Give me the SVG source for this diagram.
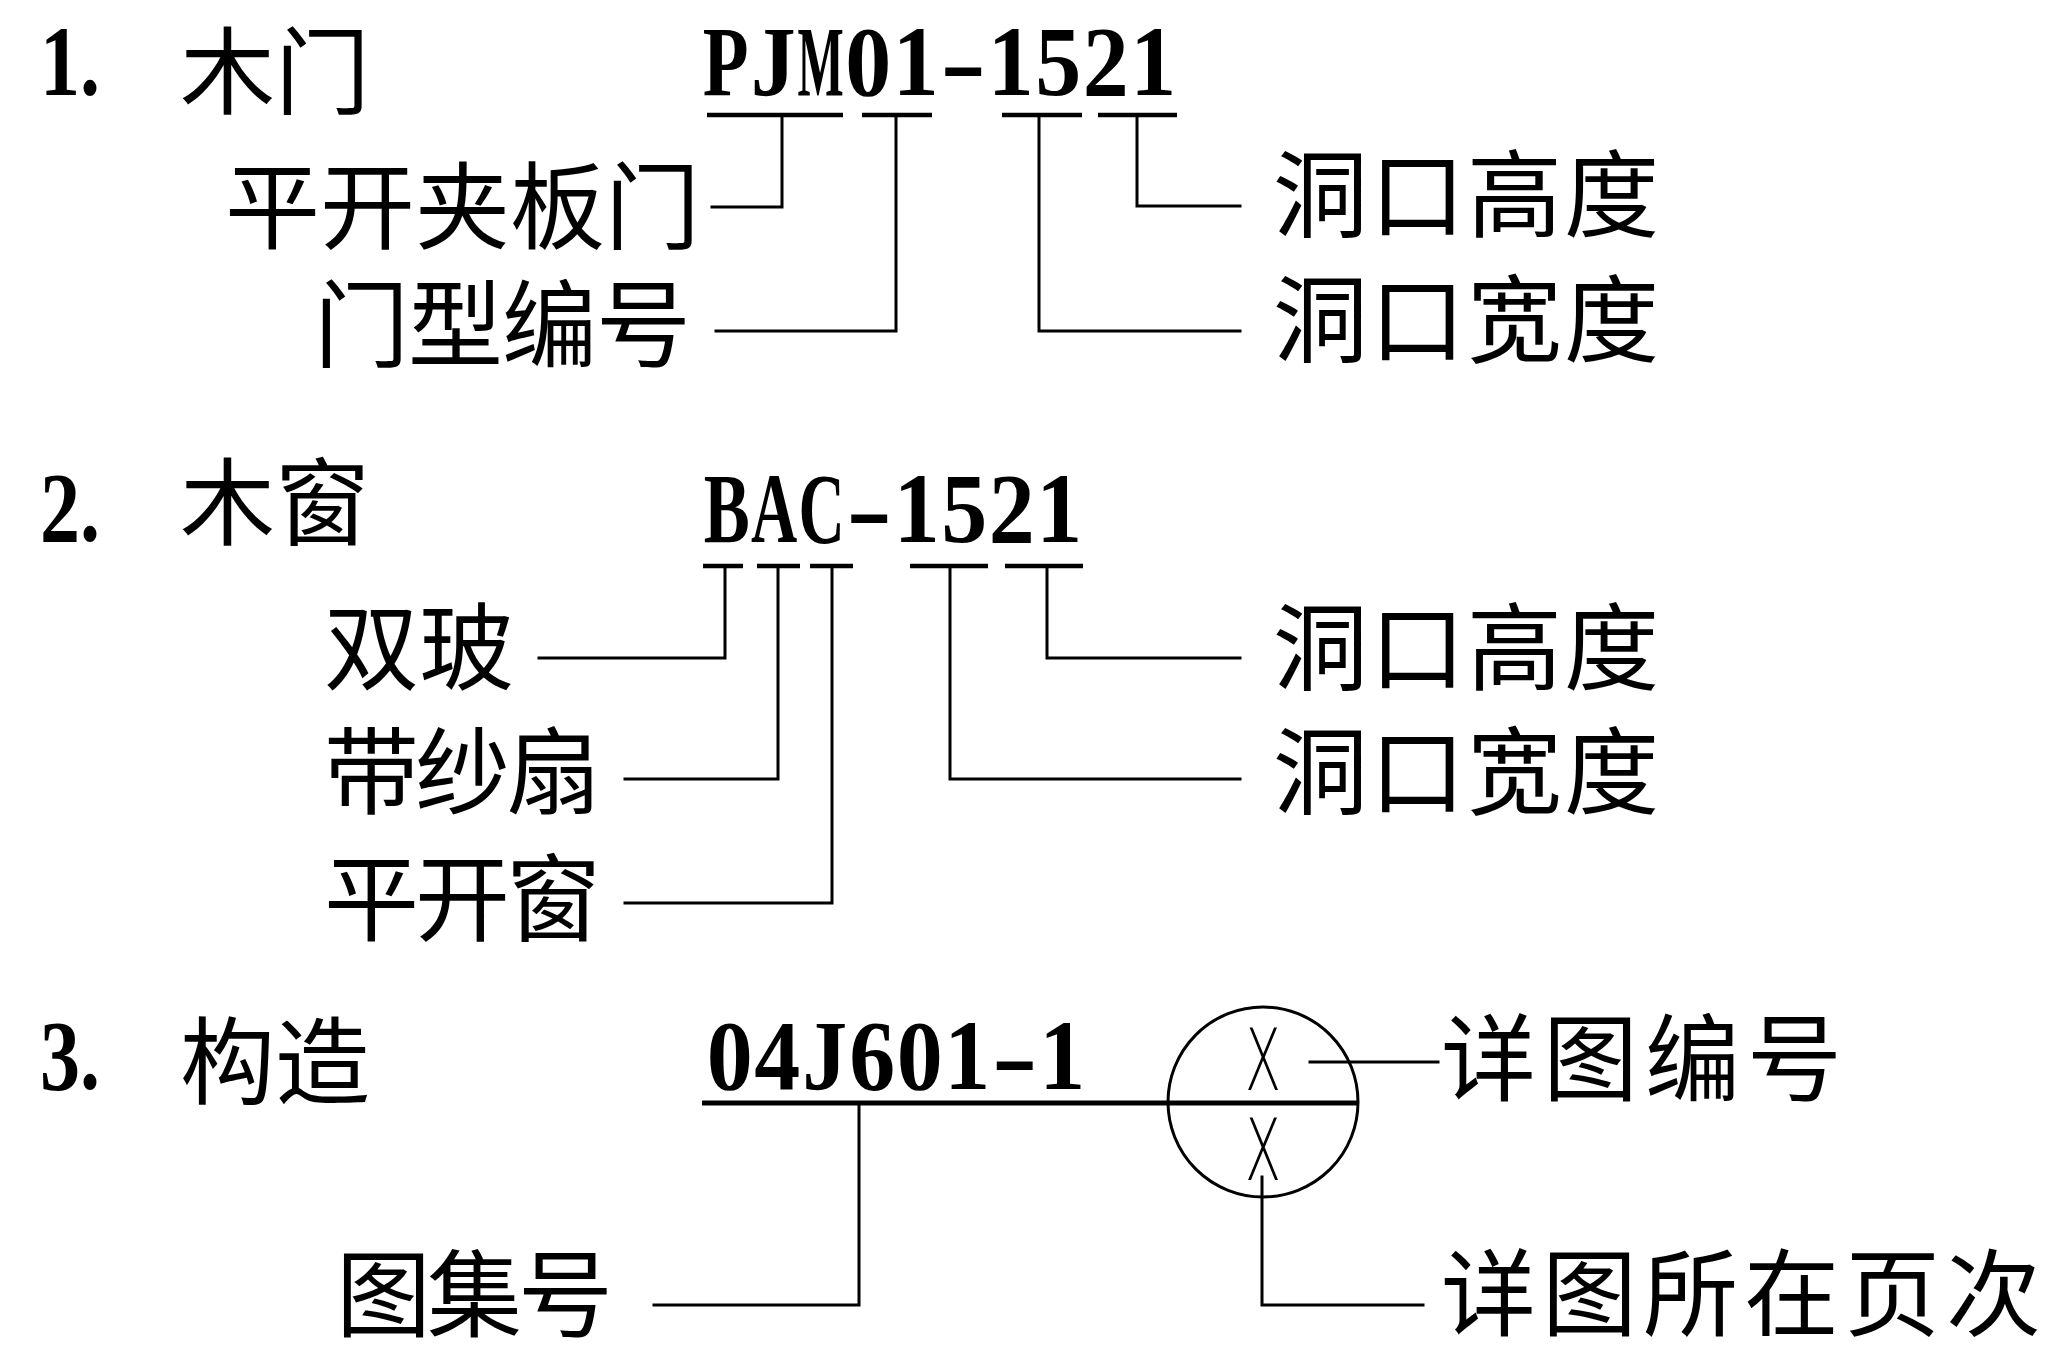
<svg xmlns="http://www.w3.org/2000/svg" width="2050" height="1346" viewBox="0 0 2050 1346">
<style>
.code{font-family:"Liberation Serif","Times New Roman",serif;font-size:100px;font-weight:bold;fill:#000;text-anchor:middle}
.num{font-family:"Liberation Serif","Times New Roman",serif;font-size:100px;font-weight:bold;fill:#000}
.cn{font-family:"Noto Sans CJK SC","Noto Sans CJK JP",sans-serif;font-size:95px;fill:#000}
.ln{fill:none;stroke:#000;stroke-width:3;stroke-linecap:square}
.ul{fill:none;stroke:#000;stroke-width:4.5}
.xm{font-family:"DejaVu Sans",sans-serif;font-weight:200;font-size:85px;fill:#000}
</style>
<rect width="2050" height="1346" fill="#fff"/>

<!-- Section 1 -->
<g id="heading1">
<text class="num" transform="translate(40,95) scale(0.8,1)">1.</text>
<text class="cn" x="180" y="65" dominant-baseline="central">木门</text>
</g>
<g id="code1">
<text class="code" transform="translate(725.7,95) scale(0.75,1)">P</text>
<text class="code" transform="translate(773.2,95) scale(0.9,1)">J</text>
<text class="code" transform="translate(820.7,95) scale(0.49,1)">M</text>
<text class="code" transform="translate(868.2,95) scale(0.92,1)">0</text>
<text class="code" transform="translate(915.7,95) scale(0.92,1)">1</text>
<text class="code" transform="translate(963.2,95) scale(1.38,1)">-</text>
<text class="code" transform="translate(1010.7,95) scale(0.92,1)">1</text>
<text class="code" transform="translate(1058.2,95) scale(0.92,1)">5</text>
<text class="code" transform="translate(1105.7,95) scale(0.92,1)">2</text>
<text class="code" transform="translate(1153.2,95) scale(0.92,1)">1</text>
</g>
<g id="label1-type"><text class="cn" x="225" y="200" dominant-baseline="central">平开夹板门</text></g>
<g id="label1-number"><text class="cn" x="314" y="318" dominant-baseline="central" letter-spacing="-1">门型编号</text></g>
<g id="label1-height"><text class="cn" x="1273" y="188" dominant-baseline="central" letter-spacing="2">洞口高度</text></g>
<g id="label1-width"><text class="cn" x="1273" y="313" dominant-baseline="central" letter-spacing="2">洞口宽度</text></g>

<!-- Section 2 -->
<g id="heading2">
<text class="num" transform="translate(40,541) scale(0.8,1)">2.</text>
<text class="cn" x="180" y="496" dominant-baseline="central">木窗</text>
</g>
<g id="code2">
<text class="code" transform="translate(726.7,542) scale(0.69,1)">B</text>
<text class="code" transform="translate(774.2,542) scale(0.64,1)">A</text>
<text class="code" transform="translate(821.7,542) scale(0.64,1)">C</text>
<text class="code" transform="translate(869.2,542) scale(1.38,1)">-</text>
<text class="code" transform="translate(916.7,542) scale(0.92,1)">1</text>
<text class="code" transform="translate(964.2,542) scale(0.92,1)">5</text>
<text class="code" transform="translate(1011.7,542) scale(0.92,1)">2</text>
<text class="code" transform="translate(1059.2,542) scale(0.92,1)">1</text>
</g>
<g id="label2-glass"><text class="cn" x="324" y="641" dominant-baseline="central">双玻</text></g>
<g id="label2-screen"><text class="cn" x="324" y="765" dominant-baseline="central" letter-spacing="-4">带纱扇</text></g>
<g id="label2-casement"><text class="cn" x="324" y="892" dominant-baseline="central" letter-spacing="-4">平开窗</text></g>
<g id="label2-height"><text class="cn" x="1273" y="641" dominant-baseline="central" letter-spacing="2">洞口高度</text></g>
<g id="label2-width"><text class="cn" x="1273" y="765" dominant-baseline="central" letter-spacing="2">洞口宽度</text></g>

<!-- Section 3 -->
<g id="heading3">
<text class="num" transform="translate(40,1089) scale(0.8,1)">3.</text>
<text class="cn" x="180" y="1055" dominant-baseline="central">构造</text>
</g>
<g id="code3">
<text class="code" transform="translate(729.7,1089) scale(0.92,1)">0</text>
<text class="code" transform="translate(777.2,1089) scale(0.92,1)">4</text>
<text class="code" transform="translate(824.7,1089) scale(0.9,1)">J</text>
<text class="code" transform="translate(872.2,1089) scale(0.92,1)">6</text>
<text class="code" transform="translate(919.7,1089) scale(0.92,1)">0</text>
<text class="code" transform="translate(967.2,1089) scale(0.92,1)">1</text>
<text class="code" transform="translate(1014.7,1089) scale(1.38,1)">-</text>
<text class="code" transform="translate(1062.2,1089) scale(0.92,1)">1</text>
</g>
<g id="index-circle">
<circle cx="1263" cy="1102" r="95" fill="none" stroke="#000" stroke-width="3"/>
<text class="xm" x="1245" y="1090" textLength="36" lengthAdjust="spacingAndGlyphs">X</text>
<text class="xm" x="1245" y="1180" textLength="36" lengthAdjust="spacingAndGlyphs">X</text>
</g>
<g id="label3-detail"><text class="cn" x="1441" y="1052" dominant-baseline="central" letter-spacing="7">详图编号</text></g>
<g id="label3-atlas"><text class="cn" x="336" y="1288" dominant-baseline="central" letter-spacing="-4">图集号</text></g>
<g id="label3-page"><text class="cn" x="1441" y="1287" dominant-baseline="central" letter-spacing="6">详图所在页次</text></g>

<!-- Connectors -->
<g id="connectors">
<path class="ul" d="M707,115H843M862,115H932M1002,115H1082M1098,115H1177"/>
<path class="ln" d="M782,115V207H712"/>
<path class="ln" d="M896,115V331H716"/>
<path class="ln" d="M1039,115V331H1240"/>
<path class="ln" d="M1137,115V206H1240"/>
<path class="ul" d="M703,566H743M757,566H800M810,566H853M910,566H988M1005,566H1083"/>
<path class="ln" d="M725,566V658H539"/>
<path class="ln" d="M778,566V779H625"/>
<path class="ln" d="M832,566V903H625"/>
<path class="ln" d="M950,566V779H1240"/>
<path class="ln" d="M1047,566V658H1240"/>
<path fill="none" stroke="#000" stroke-width="5" d="M702,1103H1358"/>
<path class="ln" d="M1310,1062H1438"/>
<path class="ln" d="M859,1103V1305H654"/>
<path class="ln" stroke-width="4" d="M1262,1177V1305H1423"/>
</g>
</svg>
